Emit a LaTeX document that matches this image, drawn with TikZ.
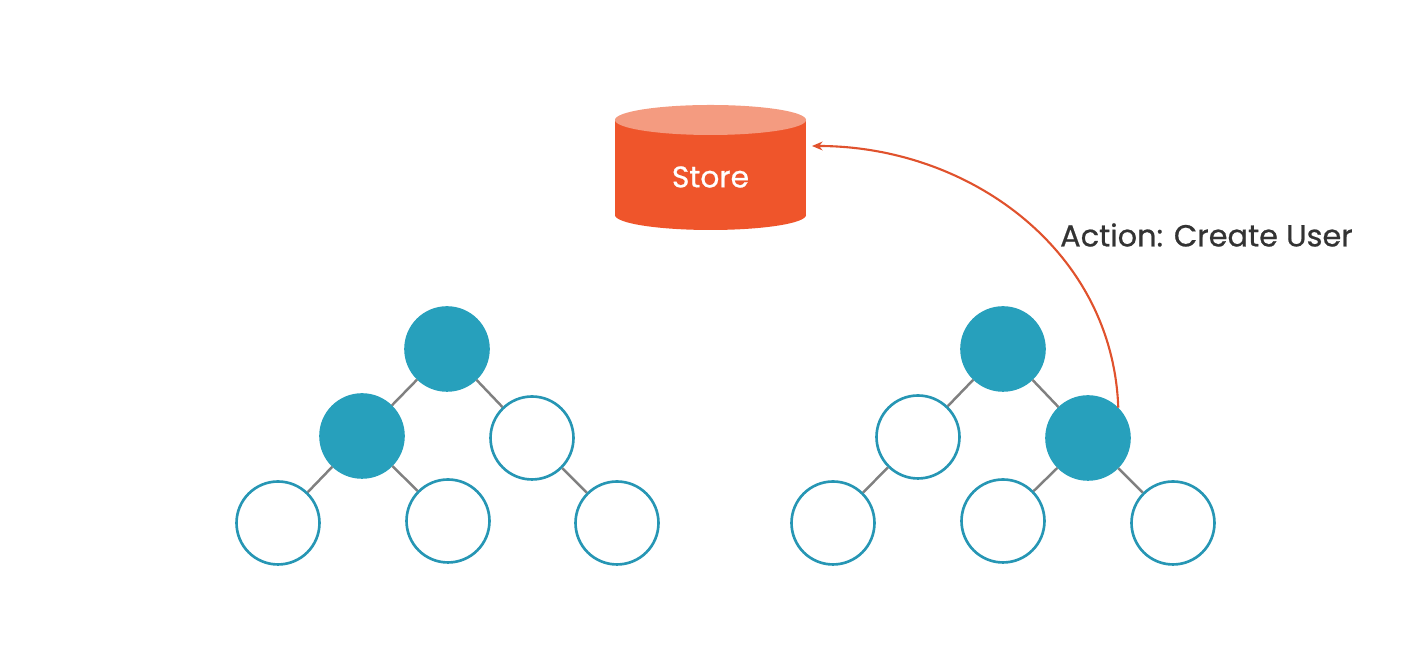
\documentclass[tikz,border=0pt]{standalone}
\usepackage{fontspec}
\setmainfont{Poppins}
\newfontfamily\labelfont[FakeBold=0.7]{Poppins}
\usetikzlibrary{arrows.meta}
\definecolor{teal}{RGB}{39,160,188}
\definecolor{tealline}{RGB}{38,150,180}
\definecolor{edgegray}{RGB}{128,128,128}
\definecolor{storebody}{RGB}{239,85,43}
\definecolor{storetop}{RGB}{244,155,128}
\definecolor{actred}{RGB}{224,82,45}
\definecolor{textdark}{RGB}{51,51,51}

\begin{document}
\begin{tikzpicture}[x=0.02cm,y=0.02cm,line join=round,
  vert/.style={circle,draw=tealline,line width=1.5pt,fill=white,minimum size=1.66cm,inner sep=0pt},
  full/.style={vert,draw=teal,fill=teal},
  link/.style={edgegray,line width=1.4pt}]
  \useasboundingbox (0,0) rectangle (1418,668);
  % store cylinder
  \fill[storebody] (615,453) rectangle (806,548);
  \fill[storebody] (710.5,453) ellipse (95.5 and 15);
  \fill[storetop] (710.5,548) ellipse (95.5 and 15);
  \node[white,font=\labelfont\fontsize{17}{20}\selectfont] (store) at (710.5,491) {Store};
  \coordinate (storein) at (812,522);
  % left tree
  \node[full] (L0) at (447,319) {}; \node[full] (L1) at (362,232) {}; \node[vert] (L2) at (532,230) {};
  \node[vert] (L3) at (278,145) {}; \node[vert] (L4) at (448,147) {}; \node[vert] (L5) at (617,145) {};
  % right tree
  \node[full] (R0) at (1003,319) {}; \node[vert] (R1) at (918,231) {}; \node[full] (R2) at (1088,230) {};
  \node[vert] (R3) at (833,145) {}; \node[vert] (R4) at (1003,147) {}; \node[vert] (R5) at (1173,145) {};
  \foreach \a/\b in {L0/L1,L0/L2,L1/L3,L1/L4,L2/L5,R0/R1,R0/R2,R1/R3,R2/R4,R2/R5}
    \draw[link] (\a) -- (\b);
  % action
  \draw[actred,line width=1.2pt,-{Stealth[length=6pt,width=5pt]}] (R2.45) to[out=92,in=0] (storein);
  \node[textdark,font=\labelfont\fontsize{17.3}{20}\selectfont,anchor=west] (action) at (1054,433) {Action: Create User};
\end{tikzpicture}
\end{document}
